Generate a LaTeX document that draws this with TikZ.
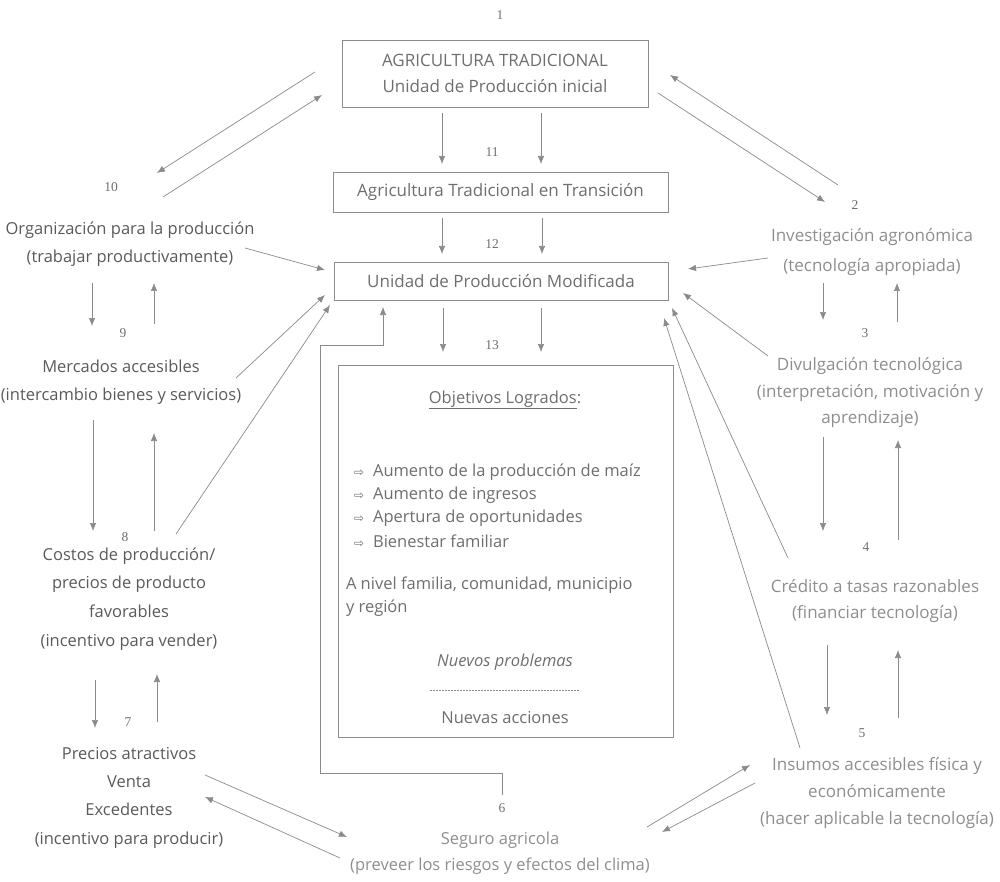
\documentclass[tikz,border=0pt]{standalone}
\usepackage{fontspec}
\setmainfont{Open Sans}
\newfontfamily\numfont{Liberation Serif}
\newfontfamily\symfont{DejaVu Sans}
\usetikzlibrary{arrows.meta}
\definecolor{txtL}{HTML}{5A5A5A}
\definecolor{txtM}{HTML}{6E6E6E}
\definecolor{txtR}{HTML}{8E8E8E}
\definecolor{lnc}{HTML}{8A8A8A}
\definecolor{bxc}{HTML}{8C8C8C}
\begin{document}
\begin{tikzpicture}[x=1pt,y=-1pt,
  every node/.style={inner sep=0pt,outer sep=0pt},
  txt/.style={align=center,font=\fontsize{16.5}{28}\selectfont},
  txtl/.style={txt,text=txtL},
  txtr/.style={txt,text=txtR,font=\fontsize{17}{26.5}\selectfont},
  num/.style={font=\numfont\fontsize{13.5}{14}\selectfont,text=txtM},
  boxn/.style={draw=bxc,line width=0.8pt,text=txtM,align=center,font=\fontsize{17}{26}\selectfont},
  arr/.style={draw=lnc,line width=0.7pt,-{Latex[length=8pt,width=6.5pt]}},
  ln/.style={draw=lnc,line width=0.7pt}]
\useasboundingbox (0,0) rectangle (1000,882);

% central boxes
\node[boxn,minimum width=306pt,minimum height=67pt] (b1) at (495,73.5) {AGRICULTURA TRADICIONAL\\Unidad de Producción inicial};
\node[boxn,minimum width=335pt,minimum height=40pt] (b11) at (500.5,192) {Agricultura Tradicional en Transición};
\node[boxn,minimum width=334pt,minimum height=38pt] (b12) at (501,281) {Unidad de Producción Modificada};
\node[draw=bxc,line width=0.8pt,minimum width=335pt,minimum height=372pt] (b13) at (505.5,551) {};

\node[num] (n1) at (500,15) {1};
\node[num] (n11) at (492,152) {11};
\node[num] (n12) at (492,244) {12};
\node[num] (n13) at (492,345) {13};

% box 13 content
\begin{scope}[every node/.append style={text=txtM,font=\fontsize{16.5}{18}\selectfont}]
\node (ttl) at (505,400) {\underline{Objetivos Logrados}:};
\node[anchor=west] (i1) at (354,472) {{\symfont\fontsize{12}{12}\selectfont ⇨}\hspace{9pt}Aumento de la producción de maíz};
\node[anchor=west] (i2) at (354,495) {{\symfont\fontsize{12}{12}\selectfont ⇨}\hspace{9pt}Aumento de ingresos};
\node[anchor=west] (i3) at (354,518) {{\symfont\fontsize{12}{12}\selectfont ⇨}\hspace{9pt}Apertura de oportunidades};
\node[anchor=west] (i4) at (354,541) {{\symfont\fontsize{12}{12}\selectfont ⇨}\hspace{9pt}Bienestar familiar};
\node[anchor=west] (lv1) at (346,585) {A nivel familia, comunidad, municipio};
\node[anchor=west] (lv2) at (346,608) {y región};
\node (np) at (505,662) {\itshape Nuevos problemas};
\node (na) at (505,718) {Nuevas acciones};
\end{scope}
\coordinate (dsl) at (430,690);
\coordinate (dsr) at (580,690);
\draw[draw=lnc,line width=0.6pt,dash pattern=on 2pt off 1pt] (dsl) -- (dsr);

% left column
\node[num] (n10) at (111,187) {10};
\node[txtl] (t10) at (130,244) {Organización para la producción\\(trabajar productivamente)};
\node[num] (n9) at (123,333) {9};
\node[txtl] (t9) at (121,382.5) {Mercados accesibles\\(intercambio bienes y servicios)};
\node[num] (n8) at (125,537) {8};
\node[txtl,font=\fontsize{16.5}{28.7}\selectfont] (t8) at (129,599) {Costos de producción/\\precios de producto\\favorables\\(incentivo para vender)};
\node[num] (n7) at (128,722) {7};
\node[txtl,font=\fontsize{16.5}{28.3}\selectfont] (t7) at (129,797.5) {Precios atractivos\\Venta\\Excedentes\\(incentivo para producir)};

% right column
\node[num] (n2) at (855,205) {2};
\node[txtr,font=\fontsize{17}{30}\selectfont] (t2) at (872,252) {Investigación agronómica\\(tecnología apropiada)};
\node[num] (n3) at (865,333) {3};
\node[txtr] (t3) at (870,393) {Divulgación tecnológica\\(interpretación, motivación y\\aprendizaje)};
\node[num] (n4) at (866,547) {4};
\node[txtr] (t4) at (875,601) {Crédito a tasas razonables\\(financiar tecnología)};
\node[num] (n5) at (862,733) {5};
\node[txtr,font=\fontsize{17}{27}\selectfont] (t5) at (877,793) {Insumos accesibles física y\\económicamente\\(hacer aplicable la tecnología)};

% bottom
\node[num] (n6) at (502,808) {6};
\node[txtr,font=\fontsize{16.5}{26}\selectfont] (t6) at (500,853) {Seguro agricola\\(preveer los riesgos y efectos del clima)};

% ---- connector end points
\coordinate (a1a) at (442,113); \coordinate (a1b) at (442,164);
\coordinate (a2a) at (541,113); \coordinate (a2b) at (541,164);
\coordinate (a3a) at (442,218); \coordinate (a3b) at (442,254);
\coordinate (a4a) at (542,218); \coordinate (a4b) at (542,254);
\coordinate (a5a) at (443,308); \coordinate (a5b) at (443,352);
\coordinate (a6a) at (541,308); \coordinate (a6b) at (541,352);

\coordinate (l1a) at (315,72);  \coordinate (l1b) at (157,173);
\coordinate (l2a) at (163,197); \coordinate (l2b) at (322,95);
\coordinate (l3a) at (245,248); \coordinate (l3b) at (325,270);
\coordinate (l4a) at (236,378); \coordinate (l4b) at (325,295);
\coordinate (l5a) at (176,534); \coordinate (l5b) at (330,305);
\coordinate (l6a) at (205,775); \coordinate (l6b) at (347,837);
\coordinate (l7a) at (340,858); \coordinate (l7b) at (205,797);

\coordinate (v1a) at (92,283);  \coordinate (v1b) at (92,326);
\coordinate (v2a) at (154,324); \coordinate (v2b) at (154,283);
\coordinate (v3a) at (93,420);  \coordinate (v3b) at (93,531);
\coordinate (v4a) at (154,531); \coordinate (v4b) at (154,433);
\coordinate (v5a) at (95,680);  \coordinate (v5b) at (95,728);
\coordinate (v6a) at (157,722); \coordinate (v6b) at (157,674);

\coordinate (r1a) at (658,93);  \coordinate (r1b) at (825,202);
\coordinate (r2a) at (838,185); \coordinate (r2b) at (670,75);
\coordinate (r3a) at (768,258); \coordinate (r3b) at (688,269);
\coordinate (r4a) at (768,356); \coordinate (r4b) at (683,293);
\coordinate (r5a) at (788,558); \coordinate (r5b) at (672,308);
\coordinate (r6a) at (800,748); \coordinate (r6b) at (664,318);
\coordinate (r7a) at (647,827); \coordinate (r7b) at (750,765);
\coordinate (r8a) at (755,783); \coordinate (r8b) at (662,832);

\coordinate (w1a) at (823,283); \coordinate (w1b) at (823,320);
\coordinate (w2a) at (897,322); \coordinate (w2b) at (897,283);
\coordinate (w3a) at (823,437); \coordinate (w3b) at (823,531);
\coordinate (w4a) at (898,540); \coordinate (w4b) at (898,440);
\coordinate (w5a) at (827,645); \coordinate (w5b) at (827,715);
\coordinate (w6a) at (898,718); \coordinate (w6b) at (898,650);

\coordinate (p0) at (502,795); \coordinate (p1) at (502,773);
\coordinate (p2) at (320,773); \coordinate (p3) at (320,345);
\coordinate (p4) at (383,345); \coordinate (p5) at (383,307);

% ---- connectors
\foreach \s/\e in {a1a/a1b,a2a/a2b,a3a/a3b,a4a/a4b,a5a/a5b,a6a/a6b,
  l1a/l1b,l2a/l2b,l3a/l3b,l4a/l4b,l5a/l5b,l6a/l6b,l7a/l7b,
  v1a/v1b,v2a/v2b,v3a/v3b,v4a/v4b,v5a/v5b,v6a/v6b,
  r1a/r1b,r2a/r2b,r3a/r3b,r4a/r4b,r5a/r5b,r6a/r6b,r7a/r7b,r8a/r8b,
  w1a/w1b,w2a/w2b,w3a/w3b,w4a/w4b,w5a/w5b,w6a/w6b}
  \draw[arr] (\s) -- (\e);
\draw[arr] (p0) -- (p1) -- (p2) -- (p3) -- (p4) -- (p5);
\end{tikzpicture}
\end{document}
